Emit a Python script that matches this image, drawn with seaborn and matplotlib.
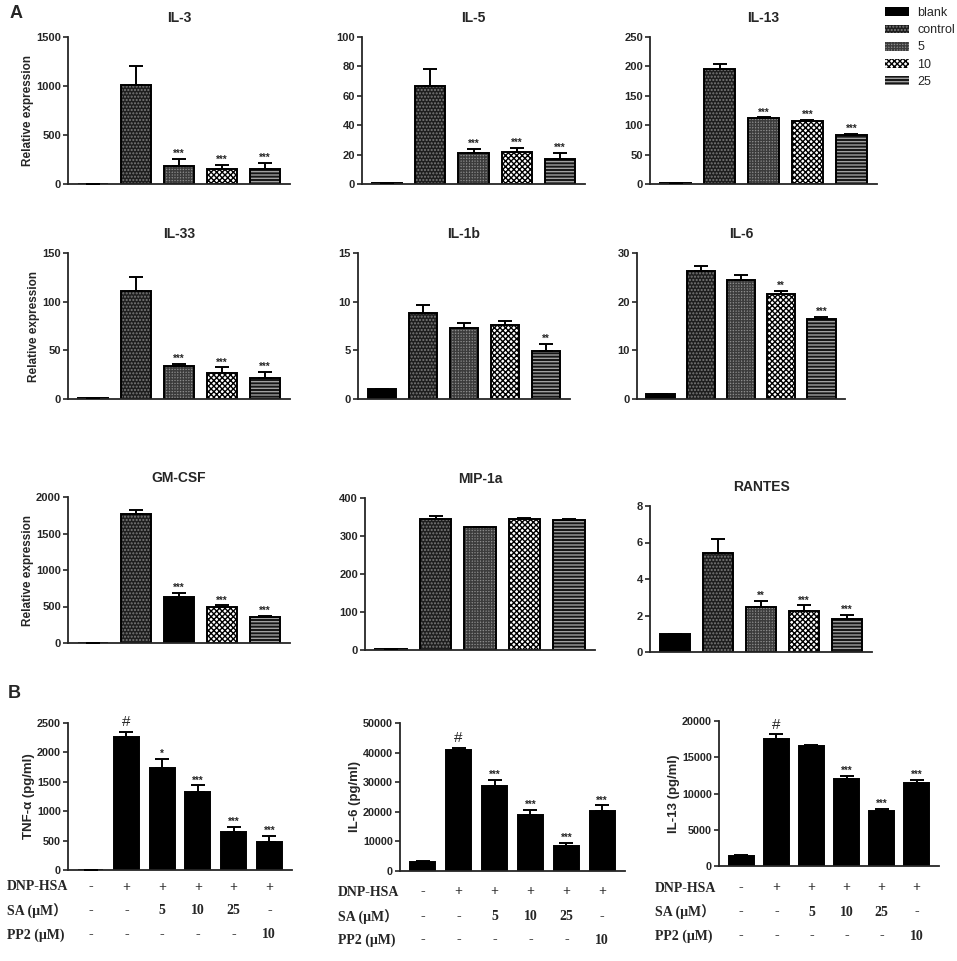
import matplotlib
matplotlib.use('Agg')
import matplotlib.pyplot as plt
import matplotlib.transforms as mtransforms
from matplotlib.patches import Patch, Rectangle
import seaborn as sns

# ---- data ----
groups_a = ['blank', 'control', '5', '10', '25']
groups_b = ['blank', 'DNP-HSA', 'SA 5', 'SA 10', 'SA 25', 'PP2 10']

il3 = [1, 1012, 187, 153, 153]
il3_err = [0, 188, 69, 45, 58]
il3_sig = ['', '', '***', '***', '***']

il5 = [1, 66.8, 20.9, 21.8, 16.8]
il5_err = [0, 11.4, 3.0, 2.7, 4.6]
il5_sig = ['', '', '***', '***', '***']

il13 = [1, 196, 112, 107, 84]
il13_err = [0, 8.5, 1.2, 1.5, 1.2]
il13_sig = ['', '', '***', '***', '***']

il33 = [1, 111, 34, 27, 21.5]
il33_err = [0, 14, 2.4, 5.5, 6.5]
il33_sig = ['', '', '***', '***', '***']

il1b = [1.0, 8.83, 7.26, 7.57, 4.98]
il1b_err = [0, 0.82, 0.51, 0.48, 0.68]
il1b_sig = ['', '', '', '', '**']

il6a = [1.0, 26.2, 24.4, 21.5, 16.5]
il6a_err = [0, 1.05, 1.15, 0.7, 0.4]
il6a_sig = ['', '', '', '**', '***']

gmcsf = [1, 1764, 632, 500, 350]
gmcsf_err = [0, 63, 54, 14, 18]
gmcsf_sig = ['', '', '***', '***', '***']

mip1a = [2, 345.5, 322.6, 344.6, 342.9]
mip1a_err = [0, 7, 2, 3, 3]
mip1a_sig = ['', '', '', '', '']

rantes = [1.0, 5.43, 2.48, 2.26, 1.79]
rantes_err = [0, 0.75, 0.32, 0.29, 0.25]
rantes_sig = ['', '', '**', '***', '***']

tnf = [0, 2261, 1727, 1330, 653, 472]
tnf_err = [0, 86, 159, 108, 74, 102]
tnf_sig = ['', '#', '*', '***', '***', '***']

il6b = [3034, 40787, 28764, 18876, 8539, 20225]
il6b_err = [336, 898, 1910, 1686, 899, 1910]
il6b_sig = ['', '#', '***', '***', '***', '***']

il13b = [1376, 17569, 16606, 12018, 7523, 11514]
il13b_err = [92, 596, 91, 459, 367, 321]
il13b_sig = ['', '#', '', '***', '***', '***']

dnp_row = ['-', '+', '+', '+', '+', '+']
sa_row = ['-', '-', '5', '10', '25', '-']
pp2_row = ['-', '-', '-', '-', '-', '10']
row_names = ['DNP-HSA', 'SA (μM）', 'PP2 (μM)']

# ---- styling ----
sns.set_style('ticks')
plt.rcParams['font.family'] = ['Liberation Sans', 'DejaVu Sans']
plt.rcParams['hatch.linewidth'] = 1.0

# face, hatch, hatch colour
bar_styles = {
    'blank': ('black', None, 'black'),
    'control': ('#1e1e1e', '.....', '#7a7a7a'),
    '5': ('#8c8c8c', '++++++', '#3c3c3c'),
    '10': ('white', 'xxxxxx', 'black'),
    '25': ('#151515', '-----', '#a0a0a0'),
    'solid': ('black', None, 'black'),
}

W, H = 957, 961
fig = plt.figure(figsize=(W / 100, H / 100), dpi=100)


def px_axes(x0, x1, ytop, ybot):
    return fig.add_axes([x0 / W, 1 - ybot / H, (x1 - x0) / W, (ybot - ytop) / H])


def draw_panel(box, groups, vals, errs, sig, ymax, step, title=None, ylabel=None,
               keys=None, tick_size=8, label_size=8.5):
    ax = px_axes(*box)
    sns.barplot(x=groups, y=vals, ax=ax, color='black', width=0.7,
                errorbar=None, saturation=1)
    bars = list(ax.patches)
    if keys is None:
        keys = ['solid'] * len(bars)
    for p, k in zip(bars, keys):
        face, hatch, hc = bar_styles[k]
        p.set_facecolor(face)
        p.set_hatch(hatch)
        p.set_edgecolor(hc)
        p.set_linewidth(0)
        ax.add_patch(Rectangle(p.get_xy(), p.get_width(), p.get_height(), fill=False,
                               edgecolor='black', linewidth=1.4, zorder=p.get_zorder()))
    xs = [p.get_x() + p.get_width() / 2 for p in bars]
    ax.errorbar(xs, vals, yerr=[[0] * len(vals), errs], fmt='none', ecolor='black',
                elinewidth=1.4, capsize=5, capthick=1.4, zorder=3)
    for x, v, e, s in zip(xs, vals, errs, sig):
        if not s:
            continue
        if s == '#':
            ax.annotate(s, (x, v + e), xytext=(0, 2), textcoords='offset points',
                        ha='center', va='bottom', fontsize=11)
        else:
            ax.annotate(s, (x, v + e), xytext=(0, 0), textcoords='offset points',
                        ha='center', va='bottom', fontsize=7, fontweight='bold')
    ax.set_ylim(0, ymax)
    ax.set_yticks(range(0, ymax + 1, step))
    ax.set_xticks([])
    ax.set_xlabel('')
    sns.despine(ax=ax)
    for side in ['left', 'bottom']:
        ax.spines[side].set_linewidth(1.3)
    ax.tick_params(axis='y', length=3.5, width=1.2, labelsize=tick_size, pad=1.5)
    for t in ax.get_yticklabels():
        t.set_fontweight('bold')
    if title:
        ax.set_title(title, fontsize=10, fontweight='bold', pad=11)
    if ylabel:
        ax.set_ylabel(ylabel, fontsize=label_size, fontweight='bold', labelpad=1.5)
    return ax


# ---- panel A ----
draw_panel((68, 290, 37, 184), groups_a, il3, il3_err, il3_sig, 1500, 500, 'IL-3',
           'Relative expression', groups_a)
draw_panel((362, 585, 37, 184), groups_a, il5, il5_err, il5_sig, 100, 20, 'IL-5',
           keys=groups_a)
draw_panel((650, 877, 37, 184), groups_a, il13, il13_err, il13_sig, 250, 50, 'IL-13',
           keys=groups_a)
draw_panel((68, 290, 253, 399), groups_a, il33, il33_err, il33_sig, 150, 50, 'IL-33',
           'Relative expression', groups_a)
draw_panel((358, 570, 253, 399), groups_a, il1b, il1b_err, il1b_sig, 15, 5, 'IL-1b',
           keys=groups_a)
draw_panel((637, 845, 253, 399), groups_a, il6a, il6a_err, il6a_sig, 30, 10, 'IL-6',
           keys=groups_a)
draw_panel((68, 290, 497, 643), groups_a, gmcsf, gmcsf_err, gmcsf_sig, 2000, 500, 'GM-CSF',
           'Relative expression', ['blank', 'control', 'blank', '10', '25'])
draw_panel((365, 595, 498, 650), groups_a, mip1a, mip1a_err, mip1a_sig, 400, 100, 'MIP-1a',
           keys=groups_a)
draw_panel((650, 872, 506, 652), groups_a, rantes, rantes_err, rantes_sig, 8, 2, 'RANTES',
           keys=groups_a)

handles = [Patch(facecolor=bar_styles[g][0], hatch=bar_styles[g][1],
                 edgecolor=bar_styles[g][2], linewidth=0) for g in groups_a]
fig.legend(handles, groups_a, loc='upper left', bbox_to_anchor=(885 / W, 1 - 7 / H),
           frameon=False, fontsize=9, handlelength=1.9, handleheight=0.7,
           labelspacing=0.42, handletextpad=0.7, borderaxespad=0, borderpad=0)

# ---- panel B ----
b_panels = [
    ((68, 292, 723, 870), tnf, tnf_err, tnf_sig, 2500, 500, 'TNF-α (pg/ml)', 7,
     [887, 911, 935]),
    ((400, 625, 723, 871), il6b, il6b_err, il6b_sig, 50000, 10000, 'IL-6 (pg/ml)', 338,
     [892, 917, 940]),
    ((719, 939, 721, 866), il13b, il13b_err, il13b_sig, 20000, 5000, 'IL-13 (pg/ml)', 655,
     [888, 912, 936]),
]
serif = ['Liberation Serif', 'Noto Sans CJK SC', 'DejaVu Serif']
for box, vals, errs, sig, ymax, step, ylab, rx, rows_y in b_panels:
    ax = draw_panel(box, groups_b, vals, errs, sig, ymax, step, None, ylab,
                    tick_size=7.8, label_size=9.5)
    trans = mtransforms.blended_transform_factory(ax.transData, fig.transFigure)
    for row, ry, name in zip([dnp_row, sa_row, pp2_row], rows_y, row_names):
        fig.text(rx / W, 1 - ry / H, name, ha='left', va='center', fontsize=10,
                 fontweight='bold', family=serif)
        for i, s in enumerate(row):
            fig.text(i, 1 - ry / H, s, transform=trans, ha='center', va='center',
                     fontsize=10, fontweight='bold', family=serif)

fig.text(10 / W, 1 - 14 / H, 'A', fontsize=13, fontweight='bold', va='center')
fig.text(8 / W, 1 - 694 / H, 'B', fontsize=13, fontweight='bold', va='center')

fig.savefig('out.png', dpi=100)
